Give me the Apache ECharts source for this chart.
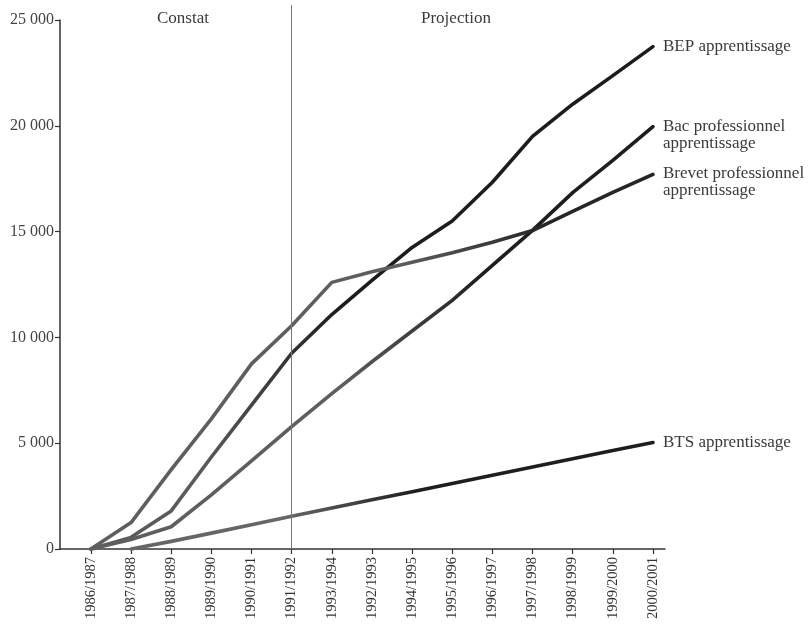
<!DOCTYPE html>
<html>
<head>
<meta charset="utf-8">
<script src="https://cdn.jsdelivr.net/npm/echarts@6/dist/echarts.min.js"></script>
<style>html,body{margin:0;padding:0;background:#fff}#c{width:810px;height:631px}</style>
</head>
<body>
<div id="c"></div>
<script>
var categories = ['1986/1987','1987/1988','1988/1989','1989/1990','1990/1991','1991/1992','1993/1994','1992/1993','1994/1995','1995/1996','1996/1997','1997/1998','1998/1999','1999/2000','2000/2001'];
var bep = [0, 550, 1800, 4350, 6800, 9250, 11080, 12690, 14250, 15500, 17330, 19500, 21020, 22370, 23740];
var bacPro = [0, 450, 1050, 2560, 4170, 5780, 7340, 8850, 10300, 11750, 13400, 15060, 16840, 18370, 19960];
var brevetPro = [0, 1250, 3750, 6150, 8750, 10550, 12600, 13100, 13550, 14000, 14500, 15050, 15950, 16850, 17700];
var bts = [null, 0, 360, 750, 1150, 1550, 1940, 2330, 2710, 3100, 3490, 3880, 4270, 4650, 5030];
var yTicks = [0, 5000, 10000, 15000, 20000, 25000];
var splitIndex = 5; // 1991/1992 : Constat | Projection

var FONT = "'Liberation Serif','DejaVu Serif',serif";
function pairs(arr){ return arr.map(function(v,i){ return [i, v]; }); }
function grad(c0, c1, stop){
  return new echarts.graphic.LinearGradient(0,0,1,0,[
    {offset:0,color:c0},{offset:stop,color:c0},{offset:Math.min(1,stop+0.25),color:c1},{offset:1,color:c1}
  ]);
}
var idx = categories.map(function(_,i){return i;});

function mkSeries(name, label, data, color, offY){
  return {
    type:'line', name:name, data:pairs(data), showSymbol:false, symbol:'none',
    clip:false, connectNulls:false, xAxisIndex:0, yAxisIndex:0,
    lineStyle:{width:3.6, color:color, cap:'round', join:'round'},
    endLabel:{show:true, formatter:label, fontFamily:FONT, fontSize:17, color:'#3a3a3a',
      distance:10, lineHeight:17, offset:[0, offY]}
  };
}

var chart = echarts.init(document.getElementById('c'));
var series = [
  mkSeries('BEP apprentissage','BEP apprentissage', bep, grad('#5a5a5a','#1c1c1c',0.2), 0),
  mkSeries('Bac professionnel apprentissage','Bac professionnel\napprentissage', bacPro, grad('#5e5e5e','#1e1e1e',0.45), 8),
  mkSeries('Brevet professionnel apprentissage','Brevet professionnel\napprentissage', brevetPro, grad('#5e5e5e','#262626',0.55), 8),
  mkSeries('BTS apprentissage','BTS apprentissage', bts, grad('#666666','#1e1e1e',0.3), 0),
  {
    type:'line', name:'separator', xAxisIndex:1, yAxisIndex:1, data:[[splitIndex,0]],
    showSymbol:false, symbol:'none', lineStyle:{width:0}, silent:true,
    markLine:{silent:true, symbol:'none', label:{show:false},
      lineStyle:{color:'#777', width:1, type:'solid'},
      data:[{xAxis:splitIndex}]}
  }
];

chart.setOption({
  animation:false,
  backgroundColor:'#fff',
  title:[
    {text:'Constat', left:152, top:5, textStyle:{fontFamily:FONT, fontSize:17, fontWeight:'normal', color:'#3a3a3a'}},
    {text:'Projection', left:416, top:5, textStyle:{fontFamily:FONT, fontSize:17, fontWeight:'normal', color:'#3a3a3a'}}
  ],
  grid:[{left:60, right:145, top:20, bottom:82},{left:60, right:145, top:5, bottom:82}],
  xAxis:[{
    type:'value', min:-0.77, max:14.3, gridIndex:0,
    axisLine:{show:true, onZero:false, lineStyle:{color:'#333', width:1.5}},
    axisTick:{show:true, inside:false, length:5, customValues:idx, lineStyle:{color:'#333', width:1.2}},
    axisLabel:{show:true, customValues:idx, rotate:90, margin:8,
      formatter:function(v){ return categories[Math.round(v)]; },
      fontFamily:FONT, fontSize:14.5, color:'#333'},
    splitLine:{show:false}
  },{
    type:'value', min:-0.77, max:14.3, gridIndex:1, show:false
  }],
  yAxis:[{
    type:'value', min:0, max:25000, interval:5000, gridIndex:0,
    axisLine:{show:true, onZero:false, lineStyle:{color:'#333', width:1.5}},
    axisTick:{show:true, length:5, lineStyle:{color:'#333', width:1.2}},
    axisLabel:{fontFamily:FONT, fontSize:16, color:'#444', margin:6,
      formatter:function(v){ return v===0 ? '0' : String(v).replace(/\B(?=(\d{3})+(?!\d))/g,' '); }},
    splitLine:{show:false}
  },{
    type:'value', min:0, max:1, gridIndex:1, show:false
  }],
  series:series
});
</script>
</body>
</html>
